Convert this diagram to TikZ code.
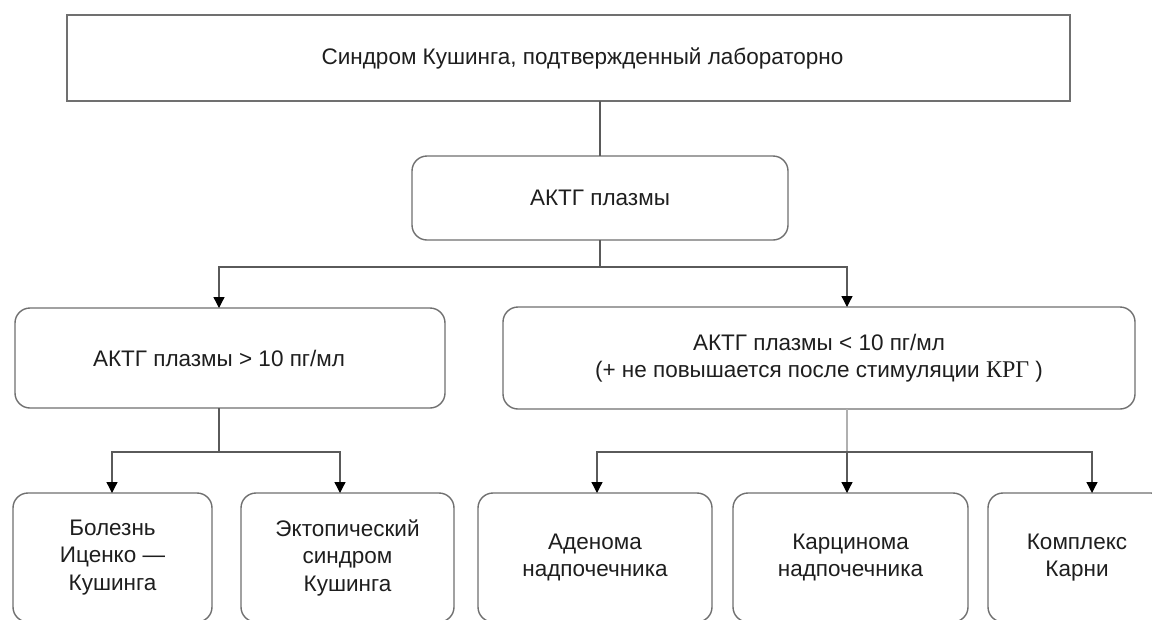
\documentclass[tikz,border=0pt]{standalone}
\usepackage{fontspec}
\setmainfont{Liberation Sans}
\newfontfamily\krgfont{Liberation Serif}
\usetikzlibrary{arrows.meta}
\definecolor{boxline}{HTML}{707070}
\definecolor{conn}{HTML}{5A5A5A}
\definecolor{connlight}{HTML}{B0B0B0}
\definecolor{txt}{HTML}{1E1E1E}
\tikzset{
  x=1pt, y=-1pt,
  every node/.style={font=\fontsize{22.5}{27.5}\selectfont, text=txt, inner sep=0pt, outer sep=0pt, align=center},
  sqbox/.style={draw=boxline, line width=1.4pt, rectangle},
  rbox/.style={draw=boxline, line width=1.4pt, rectangle, rounded corners=15pt},
  conline/.style={draw=conn, line width=1.3pt},
  arr/.style={conline, -{Triangle[width=11pt,length=11pt,color=black]}},
}
\begin{document}
\begin{tikzpicture}
\useasboundingbox (0,0) rectangle (1152,619);
\clip (0,0) rectangle (1152,619);
\fill[white] (0,0) rectangle (1152,619);

% boxes
\node[sqbox, minimum width=1003pt, minimum height=86pt] (top) at (568.5,58) {\hspace*{28pt}Синдром Кушинга, подтвержденный лабораторно};
\node[rbox, minimum width=376pt, minimum height=84pt] (aktg) at (600,198) {АКТГ плазмы};
\node[rbox, minimum width=430pt, minimum height=100pt] (gt) at (230,358) {АКТГ плазмы > 10 пг/мл\hspace*{22pt}};
\node[rbox, minimum width=632pt, minimum height=102pt] (lt) at (819,358) {АКТГ плазмы < 10 пг/мл\\(+ не повышается после стимуляции {\krgfont\fontsize{24}{27.5}\selectfont КРГ} )};
\node[rbox, minimum width=199pt, minimum height=129pt] (b1) at (112.5,557.5) {Болезнь\\Иценко —\\Кушинга};
\node[rbox, minimum width=213pt, minimum height=129pt] (b2) at (347.5,557.5) {Эктопический\\синдром\\Кушинга};
\node[rbox, minimum width=234pt, minimum height=129pt] (b3) at (595,557.5) {Аденома\\надпочечника};
\node[rbox, minimum width=235pt, minimum height=129pt] (b4) at (850.5,557.5) {Карцинома\\надпочечника};
\node[rbox, minimum width=178pt, minimum height=129pt] (b5) at (1077,557.5) {Комплекс\\Карни};

% connector x positions
\coordinate (xgt) at (219,0);
\coordinate (xlt) at (847,0);
\coordinate (xb1) at (112,0);
\coordinate (xb2) at (340,0);
\coordinate (xb3) at (597,0);
\coordinate (xb5) at (1092,0);
\coordinate (j1) at (600,267);
\coordinate (j2) at (219,452);
\coordinate (j3) at (847,452);

% connectors
\draw[conline] (top.south -| aktg.north) -- (aktg.north);
\draw[conline] (aktg.south) -- (j1);
\draw[arr] (j1) -| (gt.north -| xgt);
\draw[arr] (j1) -| (lt.north -| xlt);

\draw[conline] (gt.south -| xgt) -- (j2);
\draw[arr] (j2) -| (b1.north -| xb1);
\draw[arr] (j2) -| (b2.north -| xb2);

\draw[conline, draw=connlight] (lt.south -| xlt) -- (j3);
\draw[arr] (j3) -- (b4.north -| xlt);
\draw[arr] (j3) -| (b3.north -| xb3);
\draw[arr] (j3) -| (b5.north -| xb5);
\end{tikzpicture}
\end{document}
